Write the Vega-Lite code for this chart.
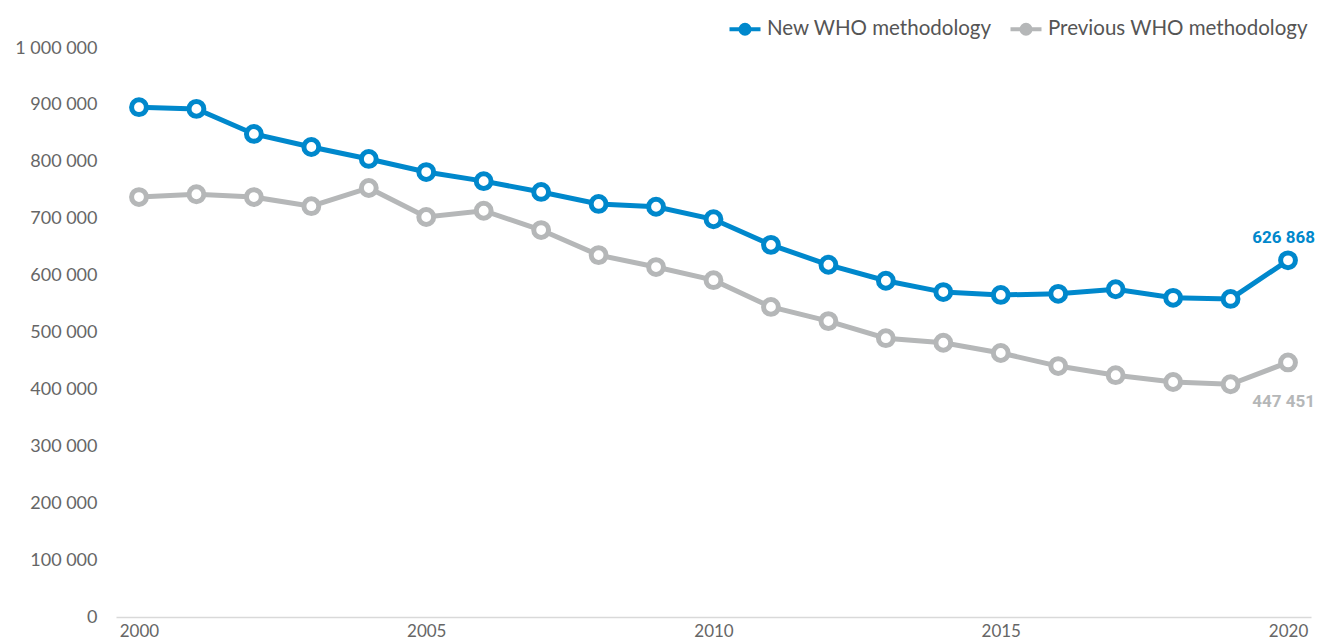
{
  "$schema": "https://vega.github.io/schema/vega-lite/v6.json",
  "width": 1195,
  "height": 569,
  "autosize": {"type": "none"},
  "padding": {"left": 116, "top": 48, "right": 6, "bottom": 27},
  "config": {
    "view": {"stroke": null},
    "font": "Lato",
    "locale": {"number": {"decimal": ".", "thousands": " ", "grouping": [3], "currency": ["", ""]}}
  },
  "data": {
    "values": [
      {"year": 2000, "series": "New WHO methodology", "value": 896000},
      {"year": 2001, "series": "New WHO methodology", "value": 893000},
      {"year": 2002, "series": "New WHO methodology", "value": 849000},
      {"year": 2003, "series": "New WHO methodology", "value": 826000},
      {"year": 2004, "series": "New WHO methodology", "value": 805000},
      {"year": 2005, "series": "New WHO methodology", "value": 782000},
      {"year": 2006, "series": "New WHO methodology", "value": 766000},
      {"year": 2007, "series": "New WHO methodology", "value": 747000},
      {"year": 2008, "series": "New WHO methodology", "value": 726000},
      {"year": 2009, "series": "New WHO methodology", "value": 721000},
      {"year": 2010, "series": "New WHO methodology", "value": 699000},
      {"year": 2011, "series": "New WHO methodology", "value": 654000},
      {"year": 2012, "series": "New WHO methodology", "value": 619000},
      {"year": 2013, "series": "New WHO methodology", "value": 591000},
      {"year": 2014, "series": "New WHO methodology", "value": 571000},
      {"year": 2015, "series": "New WHO methodology", "value": 566000},
      {"year": 2016, "series": "New WHO methodology", "value": 568000},
      {"year": 2017, "series": "New WHO methodology", "value": 576000},
      {"year": 2018, "series": "New WHO methodology", "value": 561000},
      {"year": 2019, "series": "New WHO methodology", "value": 559000},
      {"year": 2020, "series": "New WHO methodology", "value": 626868},
      {"year": 2000, "series": "Previous WHO methodology", "value": 738000},
      {"year": 2001, "series": "Previous WHO methodology", "value": 743000},
      {"year": 2002, "series": "Previous WHO methodology", "value": 738000},
      {"year": 2003, "series": "Previous WHO methodology", "value": 722000},
      {"year": 2004, "series": "Previous WHO methodology", "value": 754000},
      {"year": 2005, "series": "Previous WHO methodology", "value": 703000},
      {"year": 2006, "series": "Previous WHO methodology", "value": 714000},
      {"year": 2007, "series": "Previous WHO methodology", "value": 680000},
      {"year": 2008, "series": "Previous WHO methodology", "value": 636000},
      {"year": 2009, "series": "Previous WHO methodology", "value": 615000},
      {"year": 2010, "series": "Previous WHO methodology", "value": 592000},
      {"year": 2011, "series": "Previous WHO methodology", "value": 545000},
      {"year": 2012, "series": "Previous WHO methodology", "value": 520000},
      {"year": 2013, "series": "Previous WHO methodology", "value": 490000},
      {"year": 2014, "series": "Previous WHO methodology", "value": 482000},
      {"year": 2015, "series": "Previous WHO methodology", "value": 464000},
      {"year": 2016, "series": "Previous WHO methodology", "value": 441000},
      {"year": 2017, "series": "Previous WHO methodology", "value": 425000},
      {"year": 2018, "series": "Previous WHO methodology", "value": 413000},
      {"year": 2019, "series": "Previous WHO methodology", "value": 409000},
      {"year": 2020, "series": "Previous WHO methodology", "value": 447451}
    ]
  },
  "encoding": {
    "x": {
      "field": "year", "type": "quantitative",
      "scale": {"domain": [1999.6, 2020.4], "nice": false, "zero": false},
      "axis": {
        "title": null, "values": [2000, 2005, 2010, 2015, 2020], "format": "d",
        "grid": false, "ticks": false, "domainColor": "#d9d9d9", "domainWidth": 1.5,
        "labelFontSize": 17, "labelColor": "#666666", "labelPadding": 6, "labelFlush": false
      }
    },
    "y": {
      "field": "value", "type": "quantitative",
      "scale": {"domain": [0, 1000000], "nice": false},
      "axis": {
        "title": null, "values": [0, 100000, 200000, 300000, 400000, 500000, 600000, 700000, 800000, 900000, 1000000],
        "format": ",.0f", "grid": false, "ticks": false, "domain": false,
        "labelFontSize": 18, "labelColor": "#666666", "labelPadding": 19
      }
    },
    "color": {
      "field": "series", "type": "nominal",
      "scale": {"domain": ["New WHO methodology", "Previous WHO methodology"], "range": ["#0088CC", "#B5B7B8"]},
      "legend": {
        "title": null, "orient": "none", "direction": "horizontal",
        "legendX": 617, "legendY": -31,
        "symbolType": "M-1.55,0 L-0.45,0 M0.45,0 L1.55,0 M-0.45,0 A0.45,0.45 0 1,1 0.45,0 A0.45,0.45 0 1,1 -0.45,0",
        "symbolSize": 400, "symbolStrokeWidth": 4, "symbolOpacity": 1,
        "labelFontSize": 20.5, "labelColor": "#555555", "columnPadding": 10, "labelOffset": 10,
        "labelLimit": 400,
        "encode": {"symbols": {"update": {"fill": {"value": "#ffffff"}, "fillOpacity": {"value": 1}, "strokeWidth": {"value": 4}}}}
      }
    }
  },
  "layer": [
    {"mark": {"type": "line", "strokeWidth": 5}},
    {"mark": {"type": "point", "filled": false, "fill": "white", "fillOpacity": 1, "strokeWidth": 5, "size": 220, "opacity": 1}},
    {
      "transform": [{"filter": "datum.year == 2020 && datum.series == 'New WHO methodology'"}],
      "mark": {"type": "text", "dy": -22, "dx": 27, "fontSize": 17, "fontWeight": "bold", "font": "Roboto", "align": "right"},
      "encoding": {"text": {"field": "value", "type": "quantitative", "format": ",.0f"}, "x": {"field": "year", "type": "quantitative"}}
    },
    {
      "transform": [{"filter": "datum.year == 2020 && datum.series == 'Previous WHO methodology'"}],
      "mark": {"type": "text", "dy": 40, "dx": 27, "fontSize": 17, "fontWeight": "bold", "font": "Roboto", "align": "right"},
      "encoding": {"text": {"field": "value", "type": "quantitative", "format": ",.0f"}, "x": {"field": "year", "type": "quantitative"}}
    }
  ]
}
